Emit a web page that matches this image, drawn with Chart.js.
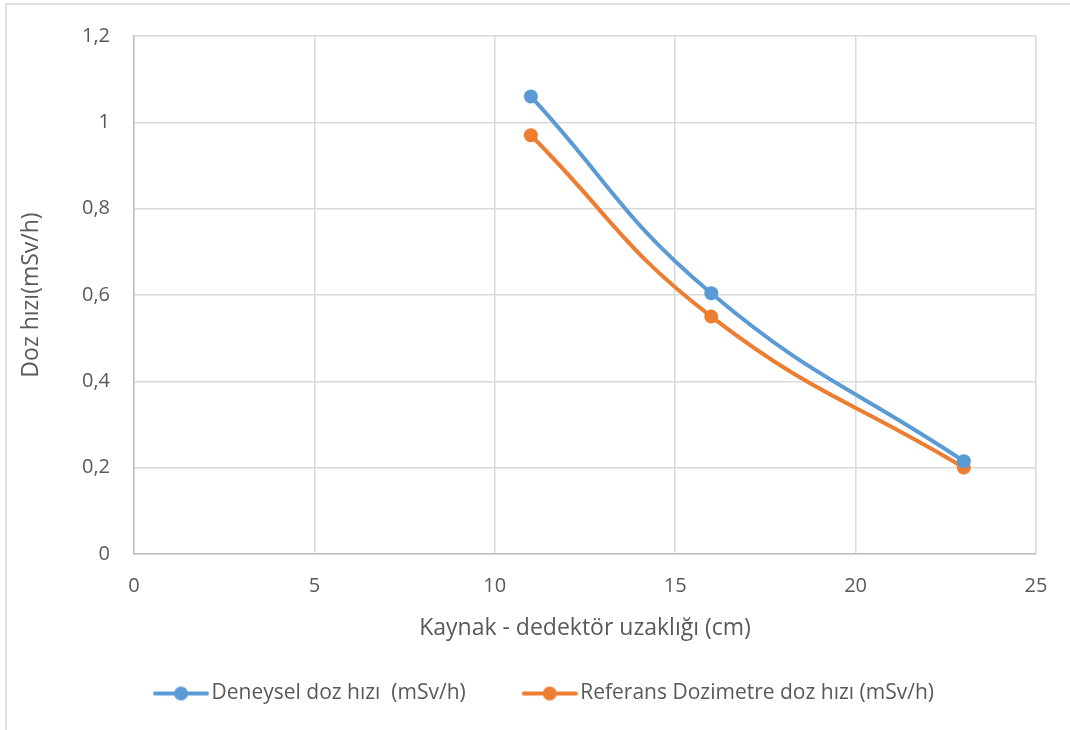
<!DOCTYPE html>
<html>
<head>
<meta charset="utf-8">
<script src="https://cdn.jsdelivr.net/npm/chart.js@4.4.1/dist/chart.umd.min.js"></script>
<style>
  html, body { margin: 0; padding: 0; background: #ffffff; }
  #wrap { width: 1070px; height: 730px; position: relative; }
</style>
</head>
<body>
<div id="wrap"><canvas id="c" width="1070" height="730"></canvas></div>
<script>
// Source–detector distance (cm)
const distances = [11, 16, 23];
// Measured dose rate (mSv/h)
const deneysel = [1.06, 0.604, 0.215];
// Reference dosimeter dose rate (mSv/h)
const referans = [0.97, 0.55, 0.2];
// Axis tick labels (Turkish decimal comma)
const xTickLabels = ['0', '5', '10', '15', '20', '25'];
const yTickLabels = ['0', '0,2', '0,4', '0,6', '0,8', '1', '1,2'];

const seriesNames = ['Deneysel doz hızı  (mSv/h)', 'Referans Dozimetre doz hızı (mSv/h)'];
const BLUE = '#5B9BD5';
const ORANGE = '#ED7D31';
const TEXT = '#595959';
const GRID = '#D9D9D9';
const FONT = "'Open Sans', 'Noto Sans', sans-serif";

// Legend marker: short line with a dot in the middle
function legendMarker(color) {
  const cv = document.createElement('canvas');
  cv.width = 56; cv.height = 16;
  const g = cv.getContext('2d');
  g.strokeStyle = color; g.lineWidth = 4; g.lineCap = 'round';
  g.beginPath(); g.moveTo(2, 8); g.lineTo(54, 8); g.stroke();
  g.fillStyle = color;
  g.beginPath(); g.arc(28, 8, 7, 0, Math.PI * 2); g.fill();
  return cv;
}
const markers = [legendMarker(BLUE), legendMarker(ORANGE)];

function toPoints(xs, ys) { return xs.map((x, i) => ({ x: x, y: ys[i] })); }

// Outer frame of the chart object (top and left edges)
const framePlugin = {
  id: 'frame',
  beforeDraw(chart) {
    const ctx = chart.ctx;
    ctx.save();
    ctx.fillStyle = '#ffffff';
    ctx.fillRect(0, 0, chart.width, chart.height);
    ctx.strokeStyle = '#D9D9D9';
    ctx.lineWidth = 1.5;
    ctx.beginPath();
    ctx.moveTo(6, chart.height);
    ctx.lineTo(6, 4);
    ctx.lineTo(chart.width, 4);
    ctx.stroke();
    ctx.restore();
  }
};

new Chart(document.getElementById('c'), {
  type: 'line',
  data: {
    datasets: [
      {
        label: seriesNames[0],
        data: toPoints(distances, deneysel),
        borderColor: BLUE, backgroundColor: BLUE,
        borderWidth: 4, pointRadius: 7, pointHoverRadius: 7,
        pointBackgroundColor: BLUE, pointBorderWidth: 0,
        tension: 0.45, fill: false
      },
      {
        label: seriesNames[1],
        data: toPoints(distances, referans),
        borderColor: ORANGE, backgroundColor: ORANGE,
        borderWidth: 4, pointRadius: 7, pointHoverRadius: 7,
        pointBackgroundColor: ORANGE, pointBorderWidth: 0,
        tension: 0.45, fill: false
      }
    ]
  },
  options: {
    responsive: false,
    animation: false,
    devicePixelRatio: 1,
    layout: { padding: { left: 59, top: 34, right: 34, bottom: 16 } },
    plugins: {
      tooltip: { enabled: false },
      legend: {
        position: 'bottom',
        labels: {
          usePointStyle: true,
          pointStyleWidth: 40,
          padding: 64,
          color: TEXT,
          font: { family: FONT, size: 21 },
          generateLabels(chart) {
            return chart.data.datasets.map((ds, i) => ({
              text: ds.label,
              fillStyle: ds.borderColor,
              strokeStyle: ds.borderColor,
              pointStyle: markers[i],
              lineWidth: 0,
              hidden: false,
              datasetIndex: i,
              fontColor: TEXT
            }));
          }
        }
      }
    },
    scales: {
      x: {
        type: 'linear',
        min: 0, max: 25,
        afterFit(scale) { scale.height = 65; },
        ticks: {
          stepSize: 5,
          padding: 20,
          color: TEXT,
          font: { family: FONT, size: 20 },
          callback: (v) => xTickLabels[Math.round(v / 5)]
        },
        grid: { color: GRID, lineWidth: 1.5, drawTicks: false },
        border: { color: '#BFBFBF', width: 1.5 },
        title: {
          display: true,
          text: 'Kaynak - dedektör uzaklığı (cm)',
          color: TEXT,
          font: { family: FONT, size: 23 },
          padding: { top: 0, bottom: -23 }
        }
      },
      y: {
        min: 0, max: 1.2,
        afterFit(scale) { scale.width = 75; },
        ticks: {
          stepSize: 0.2,
          padding: 24,
          color: TEXT,
          font: { family: FONT, size: 20 },
          callback: (v) => yTickLabels[Math.round(v / 0.2)]
        },
        grid: { color: GRID, lineWidth: 1.5, drawTicks: false },
        border: { color: '#BFBFBF', width: 1.5 },
        title: {
          display: true,
          text: 'Doz hızı(mSv/h)',
          color: TEXT,
          font: { family: FONT, size: 23 },
          padding: { top: -41, bottom: 0 }
        }
      }
    }
  },
  plugins: [framePlugin]
});
</script>
</body>
</html>
